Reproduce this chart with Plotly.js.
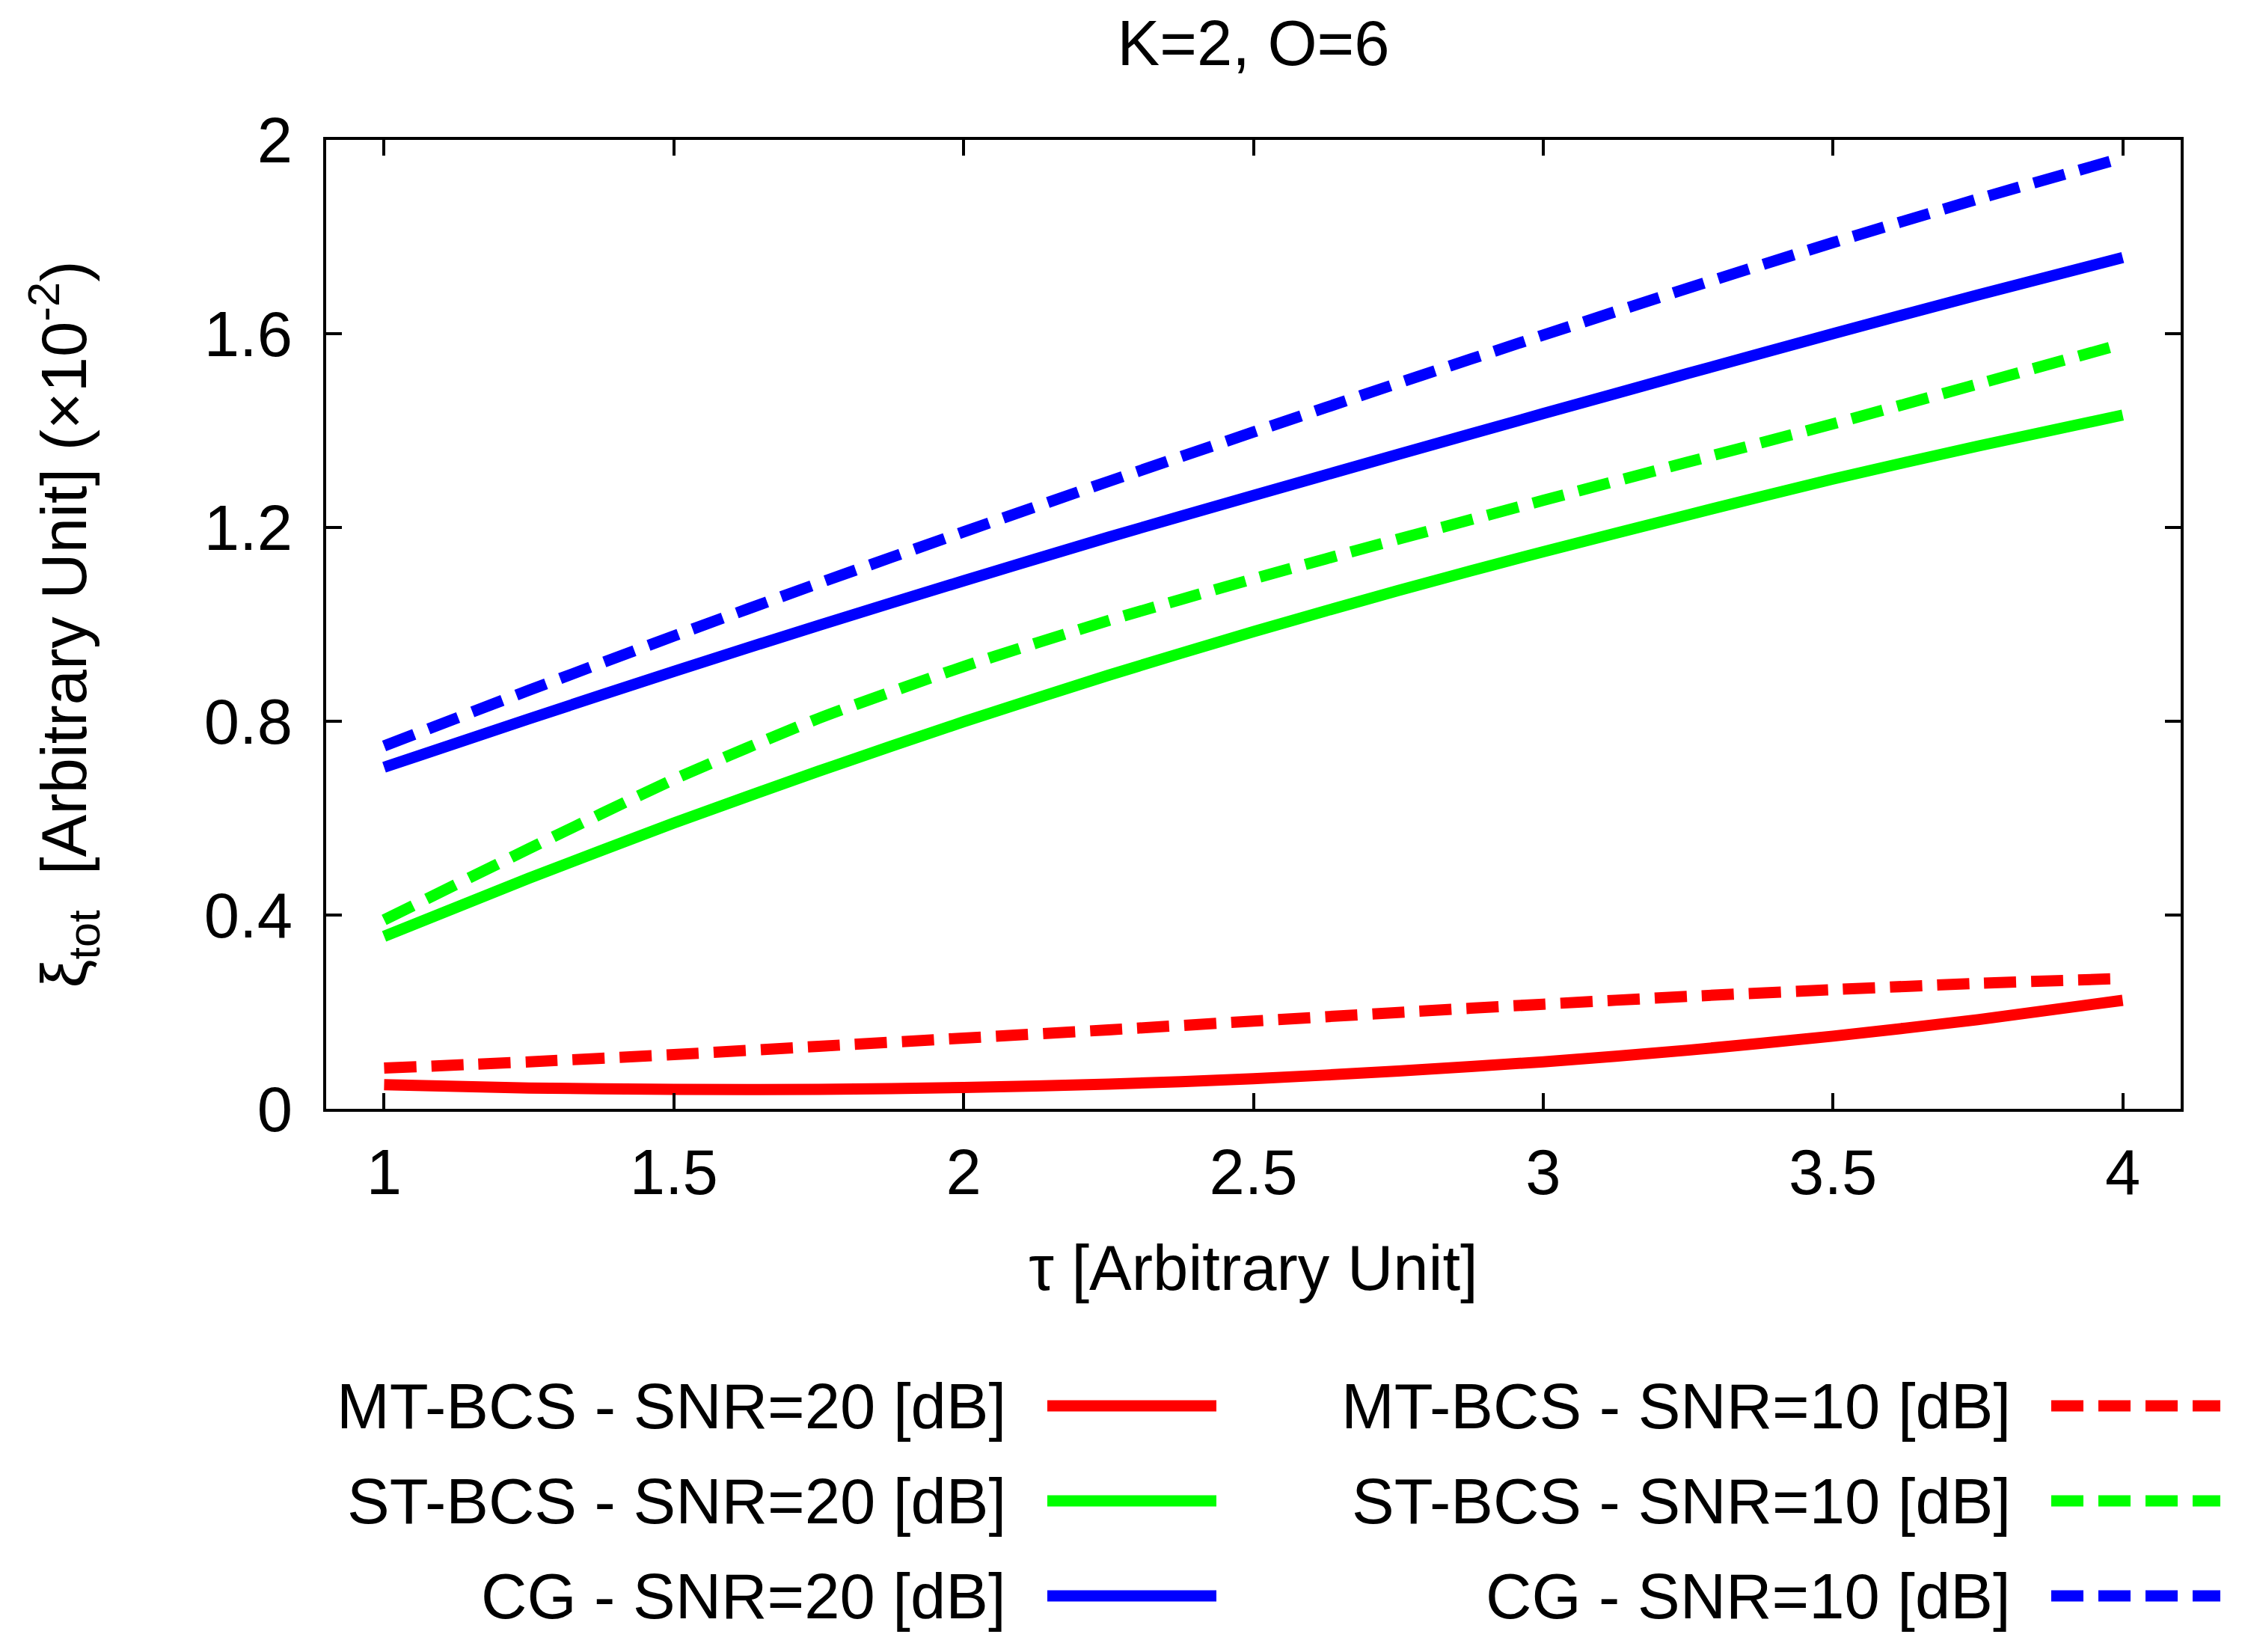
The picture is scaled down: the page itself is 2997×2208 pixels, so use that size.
<!DOCTYPE html>
<html>
<head>
<meta charset="utf-8">
<script src="https://cdn.plot.ly/plotly-3.0.1.min.js"></script>
<style>
  html, body { margin: 0; padding: 0; background: #fff; }
  #graph { width: 2997px; height: 2208px; }
</style>
</head>
<body>
<div id="graph"></div>
<script>
// tau values (x axis)
const tau = [1, 1.25, 1.5, 1.75, 2, 2.25, 2.5, 2.75, 3, 3.25, 3.5, 3.75, 4]

// xi_tot (x10^-2)
const mtBcs20 = [0.050, 0.043, 0.040, 0.040, 0.044, 0.051, 0.062, 0.078, 0.097, 0.121, 0.150, 0.184, 0.224]
const stBcs20 = [0.356, 0.476, 0.590, 0.697, 0.799, 0.895, 0.985, 1.070, 1.150, 1.226, 1.300, 1.368, 1.432]
const cg20    = [0.705, 0.805, 0.903, 0.998, 1.090, 1.180, 1.266, 1.351, 1.435, 1.518, 1.600, 1.680, 1.757]
const mtBcs10 = [0.084, 0.097, 0.112, 0.129, 0.146, 0.163, 0.181, 0.199, 0.216, 0.232, 0.246, 0.259, 0.269]
const stBcs10 = [0.390, 0.537, 0.680, 0.806, 0.913, 1.008, 1.094, 1.176, 1.256, 1.335, 1.414, 1.496, 1.579]
const cg10    = [0.749, 0.864, 0.976, 1.085, 1.191, 1.295, 1.397, 1.498, 1.597, 1.694, 1.788, 1.878, 1.963]

const seriesNames = [
    "MT-BCS - SNR=20 [dB]", "ST-BCS - SNR=20 [dB]", "CG - SNR=20 [dB]",
    "MT-BCS - SNR=10 [dB]", "ST-BCS - SNR=10 [dB]", "CG - SNR=10 [dB]"
]
const seriesValues = [mtBcs20, stBcs20, cg20, mtBcs10, stBcs10, cg10]
const seriesColors = ["#ff0000", "#00ff00", "#0000ff", "#ff0000", "#00ff00", "#0000ff"]

const xTicks = [1, 1.5, 2, 2.5, 3, 3.5, 4]
const yTicks = [0, 0.4, 0.8, 1.2, 1.6, 2]

// page geometry (px)
const W = 2997, H = 2208
const plotL = 436, plotR = 2915, plotT = 187, plotB = 1482
const FONT = "Liberation Sans, Arial, Helvetica, sans-serif"
const FS = 85
const LW = 15
const DASH = "43px,20px"

const px2x = p => (p - plotL) / (plotR - plotL)
const px2y = p => (plotB - p) / (plotB - plotT)

const traces = seriesValues.map((vals, i) => ({
    x: tau,
    y: vals,
    type: "scatter",
    mode: "lines",
    name: seriesNames[i],
    line: { color: seriesColors[i], width: LW, dash: i < 3 ? "solid" : DASH, shape: "spline", smoothing: 0.6 },
    showlegend: false,
    hoverinfo: "skip"
}))

// legend drawn by hand: text right-aligned, sample line on its right
const legendRows = [1879, 2006, 2133]
const legendCols = [
    { textRight: 1347, lineFrom: 1400, lineTo: 1626 },
    { textRight: 2690, lineFrom: 2742, lineTo: 2968 }
]
const annotations = []
const shapes = []
seriesNames.forEach((name, i) => {
    const col = legendCols[Math.floor(i / 3)]
    const row = legendRows[i % 3]
    annotations.push({
        xref: "paper", yref: "paper",
        x: px2x(col.textRight), y: px2y(row),
        xanchor: "right", yanchor: "middle",
        text: name, showarrow: false,
        font: { family: FONT, size: FS, color: "#000" }
    })
    shapes.push({
        type: "line", xref: "paper", yref: "paper",
        x0: px2x(col.lineFrom), x1: px2x(col.lineTo),
        y0: px2y(row), y1: px2y(row),
        line: { color: seriesColors[i], width: LW, dash: i < 3 ? "solid" : DASH }
    })
})

const axisCommon = {
    showline: true, linecolor: "#000", linewidth: 4, mirror: "ticks",
    ticks: "inside", ticklen: 21, tickwidth: 4, tickcolor: "#000",
    showgrid: false, zeroline: false,
    tickfont: { family: FONT, size: FS, color: "#000" }
}

const layout = {
    width: W, height: H,
    paper_bgcolor: "#fff", plot_bgcolor: "#fff",
    margin: { l: plotL, r: W - plotR, t: plotT, b: H - plotB, pad: 0 },
    font: { family: FONT, size: FS, color: "#000" },
    title: {
        text: "K=2, O=6",
        font: { family: FONT, size: FS, color: "#000" },
        xref: "paper", x: 0.5, xanchor: "center",
        yref: "container", y: 1 - 57 / H, yanchor: "middle"
    },
    xaxis: Object.assign({}, axisCommon, {
        range: [0.9, 4.1],
        tickvals: xTicks,
        ticktext: xTicks.map(String),
        ticklabelstandoff: 8,
        title: { text: "τ [Arbitrary Unit]", font: { family: FONT, size: FS, color: "#000" }, standoff: 52 }
    }),
    yaxis: Object.assign({}, axisCommon, {
        range: [0, 2],
        tickvals: yTicks,
        ticktext: yTicks.map(String),
        ticklabelstandoff: 24,
        title: {
            text: "ξ<sub>tot</sub>  [Arbitrary Unit] (×10<sup>-2</sup>)",
            font: { family: FONT, size: FS, color: "#000" },
            standoff: 130
        }
    }),
    annotations: annotations,
    shapes: shapes,
    showlegend: false
}

Plotly.newPlot("graph", traces, layout, { staticPlot: true })
</script>
</body>
</html>
